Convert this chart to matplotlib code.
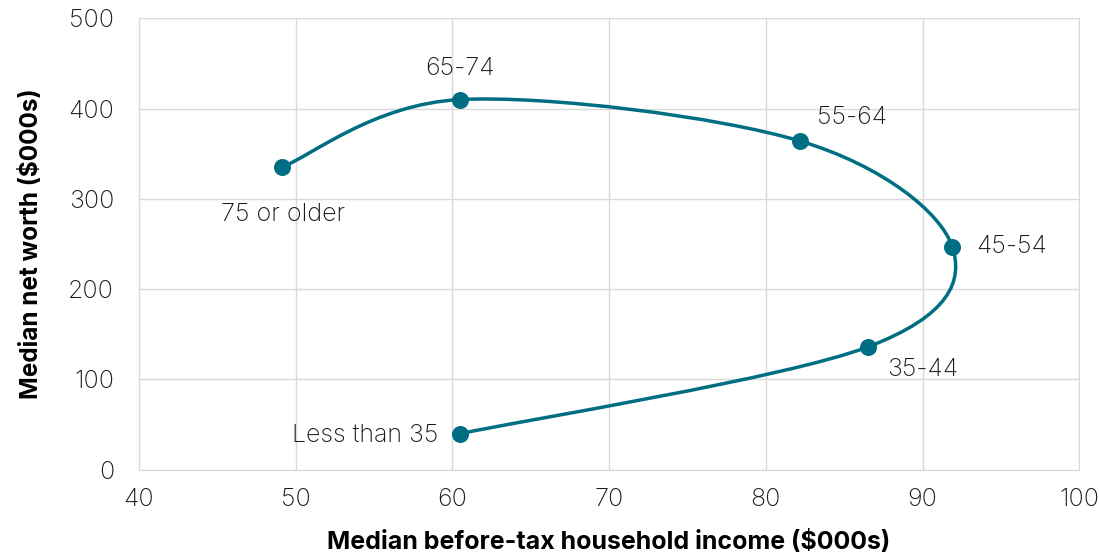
import matplotlib
matplotlib.use("Agg")
import matplotlib.pyplot as plt
import numpy as np
from matplotlib.path import Path
from matplotlib.patches import PathPatch

plt.rcParams['font.family'] = ['Inter', 'DejaVu Sans']

groups = ["Less than 35", "35-44", "45-54", "55-64", "65-74", "75 or older"]
income = [60.5, 86.5, 91.9, 82.2, 60.5, 49.1]
net_worth = [40, 136, 247, 364, 410, 335]

teal = "#006e82"
grid = "#d9d9d9"
txt = "#1a1a1a"


def smooth_path(x, y):
    """Catmull-Rom kurve gjennom punktene (som Excel sin glattede linje)"""
    p = np.column_stack([x, y])
    n = len(p)
    verts = [p[0]]
    codes = [Path.MOVETO]
    for i in range(n - 1):
        p0 = p[i - 1] if i > 0 else p[i]
        p3 = p[i + 2] if i + 2 < n else p[i + 1]
        c1 = p[i] + (p[i + 1] - p0) / 6
        c2 = p[i + 1] - (p3 - p[i]) / 6
        verts += [c1, c2, p[i + 1]]
        codes += [Path.CURVE4] * 3
    return Path(verts, codes)


fig, ax = plt.subplots(figsize=(10.99, 5.54), dpi=100)
fig.subplots_adjust(left=0.1265, right=0.982, top=0.967, bottom=0.152)

ax.add_patch(PathPatch(smooth_path(income, net_worth), facecolor="none",
                       edgecolor=teal, lw=2.5, zorder=3))
ax.scatter(income, net_worth, s=150, color=teal, zorder=4, linewidths=0)

offsets = {
    "Less than 35": (-16, -1, "right", "center"),
    "35-44": (14, -16, "left", "center"),
    "45-54": (17, 0, "left", "center"),
    "55-64": (12, 17, "left", "center"),
    "65-74": (0, 22, "center", "center"),
    "75 or older": (1, -34, "center", "center"),
}
for g, xv, yv in zip(groups, income, net_worth):
    dx, dy, ha, va = offsets[g]
    ax.annotate(g, (xv, yv), xytext=(dx, dy), textcoords="offset points",
                ha=ha, va=va, fontsize=18, color=txt, fontweight="light")

ax.set_xlim(40, 100)
ax.set_ylim(0, 500)
ax.set_xticks(range(40, 101, 10))
ax.set_yticks(range(0, 501, 100))
ax.grid(True, color=grid, lw=1)
ax.set_axisbelow(True)
for sp in ax.spines.values():
    sp.set_color(grid)
ax.tick_params(length=0, labelsize=18, colors=txt)
ax.tick_params(axis="x", pad=13)
ax.tick_params(axis="y", pad=18)
for lab in ax.get_xticklabels() + ax.get_yticklabels():
    lab.set_fontweight("light")

ax.set_xlabel("Median before-tax household income ($000s)", fontsize=18,
              fontweight="bold", color="black", labelpad=14)
ax.set_ylabel("Median net worth ($000s)", fontsize=17.5, fontweight="bold",
              color="black", labelpad=18)

fig.savefig("out.png", dpi=100)
